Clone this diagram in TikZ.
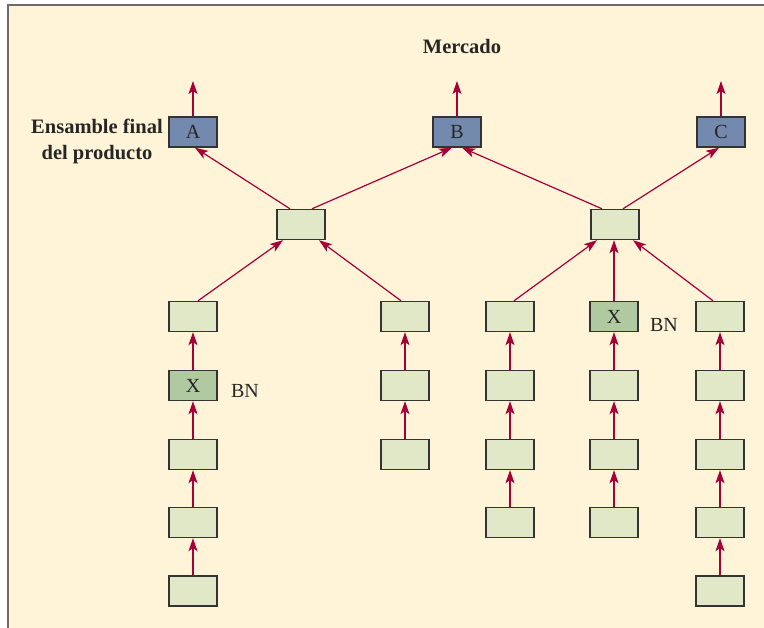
\documentclass[tikz,border=0pt]{standalone}
\usepackage{fontspec}
\setmainfont{Liberation Serif}
\usetikzlibrary{arrows.meta,calc}
\definecolor{bgc}{HTML}{FFF4D7}
\definecolor{framec}{HTML}{6B6B6B}
\definecolor{arrc}{HTML}{A6003A}
\definecolor{lightbox}{HTML}{E1E8C8}
\definecolor{xbox}{HTML}{B1C9A0}
\definecolor{topbox}{HTML}{7389AD}
\definecolor{boxline}{HTML}{333333}
\begin{document}
\begin{tikzpicture}[x=1pt,y=-1pt,
  boxbase/.style={draw=boxline, line width=1.4pt, minimum width=48pt, minimum height=30pt, inner sep=0pt, font=\fontsize{20}{20}\selectfont, text=black!85},
  lbox/.style={boxbase, fill=lightbox},
  xb/.style={boxbase, fill=xbox},
  tbox/.style={boxbase, fill=topbox},
  arr/.style={draw=arrc, line width=1.2pt, -{Stealth[length=13pt,width=9pt,inset=3pt]}},
  lbl/.style={font=\fontsize{20.5}{26}\selectfont\bfseries, text=black!85, inner sep=0pt},
  bn/.style={font=\fontsize{20}{20}\selectfont, text=black!85, inner sep=0pt}
]
\useasboundingbox (0,0) rectangle (764,628);
\fill[bgc] (8,5) rectangle (764,628);
\draw[framec, line width=2.2pt] (8,628) -- (8,5) -- (764,5);

% titles
\node[lbl] (mercado) at (462,46) {Mercado};
\node[lbl, align=center] (ensamble) at (97,141) {Ensamble final\\del producto};

% top products
\node[tbox] (A) at (193,132) {A};
\node[tbox] (B) at (457,132) {B};
\node[tbox] (C) at (721,132) {C};
\coordinate (Aout) at (193,81);
\coordinate (Bout) at (457,81);
\coordinate (Cout) at (721,81);
\draw[arr] (A.north) -- (Aout);
\draw[arr] (B.north) -- (Bout);
\draw[arr] (C.north) -- (Cout);

% middle subassemblies
\node[lbox] (m1) at (301,224.5) {};
\node[lbox] (m2) at (615,224.5) {};

% column 1
\node[lbox] (c1r1) at (193,316.5) {};
\node[xb]   (c1r2) at (193,385.5) {X};
\node[lbox] (c1r3) at (193,454.5) {};
\node[lbox] (c1r4) at (193,522.5) {};
\node[lbox] (c1r5) at (193,591) {};
% column 2
\node[lbox] (c2r1) at (405,316.5) {};
\node[lbox] (c2r2) at (405,385.5) {};
\node[lbox] (c2r3) at (405,454.5) {};
% column 3
\node[lbox] (c3r1) at (510,316.5) {};
\node[lbox] (c3r2) at (510,385.5) {};
\node[lbox] (c3r3) at (510,454.5) {};
\node[lbox] (c3r4) at (510,522.5) {};
% column 4
\node[xb]   (c4r1) at (614,316.5) {X};
\node[lbox] (c4r2) at (614,385.5) {};
\node[lbox] (c4r3) at (614,454.5) {};
\node[lbox] (c4r4) at (614,522.5) {};
% column 5
\node[lbox] (c5r1) at (720,316.5) {};
\node[lbox] (c5r2) at (720,385.5) {};
\node[lbox] (c5r3) at (720,454.5) {};
\node[lbox] (c5r4) at (720,522.5) {};
\node[lbox] (c5r5) at (720,591) {};

% BN labels
\node[bn] (bn1) at (245,391) {BN};
\node[bn] (bn2) at (664,325) {BN};

% vertical chains
\foreach \a/\b in {c1r2/c1r1, c1r3/c1r2, c1r4/c1r3, c1r5/c1r4,
                   c2r2/c2r1, c2r3/c2r2,
                   c3r2/c3r1, c3r3/c3r2, c3r4/c3r3,
                   c4r2/c4r1, c4r3/c4r2, c4r4/c4r3,
                   c5r2/c5r1, c5r3/c5r2, c5r4/c5r3, c5r5/c5r4}
  \draw[arr] (\a.north) -- (\b.south);

% to middle subassemblies
\draw[arr] ($(c1r1.north)+(5,0)$) -- ($(m1.south)+(-18,0)$);
\draw[arr] ($(c2r1.north)+(-4,0)$) -- ($(m1.south)+(18,0)$);
\draw[arr] ($(c3r1.north)+(4,0)$) -- ($(m2.south)+(-18,0)$);
\draw[arr] (c4r1.north) -- (c4r1.north |- m2.south);
\draw[arr] ($(c5r1.north)+(-7,0)$) -- ($(m2.south)+(18,0)$);

% middle to products
\draw[arr] ($(m1.north)+(-11,0)$) -- ($(A.south)+(2,0)$);
\draw[arr] ($(m1.north)+(11,0)$) -- ($(B.south)+(-5,0)$);
\draw[arr] ($(m2.north)+(-13,0)$) -- ($(B.south)+(5,0)$);
\draw[arr] ($(m2.north)+(8,0)$) -- ($(C.south)+(-2,0)$);
\end{tikzpicture}
\end{document}
